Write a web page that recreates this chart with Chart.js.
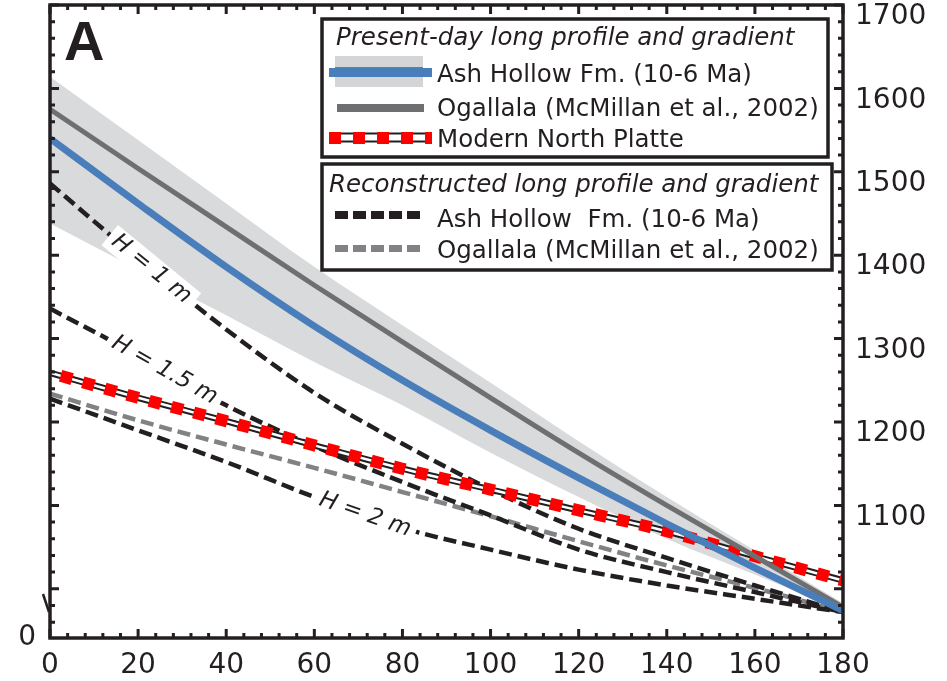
<!DOCTYPE html>
<html lang="en">
<head>
<meta charset="UTF-8">
<title>Long profile and gradient</title>
<script src="https://cdn.jsdelivr.net/npm/chart.js@4.4.0/dist/chart.umd.min.js"></script>
<style>
  body { margin: 0; background: #fff; }
  #wrap { width: 947px; height: 681px; }
</style>
</head>
<body>
<div id="wrap"><canvas id="profileChart" width="947" height="681"></canvas></div>
<script>
// distance downstream (km) and elevations (m)
const distance = [0, 20, 40, 60, 80, 100, 120, 140, 160, 180];
const ashHollowNow = [1540, 1462, 1386, 1315, 1250, 1190, 1133, 1078, 1025, 974];
const ogallalaNow = [1575, 1504, 1434, 1364, 1296, 1229, 1163, 1100, 1039, 978];
const bandTop = [1614, 1538, 1462, 1386, 1316, 1247, 1177, 1110, 1046, 983];
const bandBottom = [1438, 1383, 1328, 1272, 1220, 1163, 1110, 1060, 1017, 974];
const northPlatte = [1259, 1229, 1201, 1172, 1144, 1119, 1094, 1069, 1039, 1010];
const reconH1 = [1486, 1396, 1311, 1235, 1174, 1119, 1072, 1037, 1004, 972];
const reconH15 = [1336, 1280, 1220, 1171, 1128, 1088, 1047, 1020, 996, 972];
const reconH2 = [1228, 1190, 1152, 1110, 1073, 1047, 1023, 1004, 988, 972];
const ogallalaRecon = [1234, 1202, 1173, 1145, 1116, 1087, 1057, 1028, 1001, 972];

const xTicks = [0, 20, 40, 60, 80, 100, 120, 140, 160, 180];
const yTicks = [1100, 1200, 1300, 1400, 1500, 1600, 1700];
const yMin = 941, yMax = 1700;
const breakLabel = '0';

const hLabels = ['H = 1 m', 'H = 1.5 m', 'H = 2 m'];
const hSeries = [reconH1, reconH15, reconH2];
const hLabelX = [23, 26, 71.5];

const presentTitle = 'Present-day long profile and gradient';
const presentItems = ['Ash Hollow Fm. (10-6 Ma)', 'Ogallala (McMillan et al., 2002)', 'Modern North Platte'];
const reconTitle = 'Reconstructed long profile and gradient';
const reconItems = ['Ash Hollow  Fm. (10-6 Ma)', 'Ogallala (McMillan et al., 2002)'];

const ink = '#231f20';
const blue = '#4a7ebb';
const grayLine = '#6e6f71';
const grayDash = '#808285';
const bandColor = '#d9dadb';

function pts(arr) {
  return distance.map((d, i) => ({ x: d, y: arr[i] }));
}

function interp(arr, xv) {
  for (let i = 0; i < distance.length - 1; i++) {
    if (xv >= distance[i] && xv <= distance[i + 1]) {
      const t = (xv - distance[i]) / (distance[i + 1] - distance[i]);
      return arr[i] + t * (arr[i + 1] - arr[i]);
    }
  }
  return arr[arr.length - 1];
}

const font = 'DejaVu Sans';

// labels on the reconstructed curves, tick marks, frame and the two legend boxes
const decor = {
  id: 'decor',
  afterDatasetsDraw(chart) {
    const ctx = chart.ctx, x = chart.scales.x, y = chart.scales.y;
    ctx.save();
    ctx.font = 'italic 23px "' + font + '"';
    ctx.textAlign = 'center';
    ctx.textBaseline = 'middle';
    hLabels.forEach((txt, i) => {
      const xv = hLabelX[i];
      const px = x.getPixelForValue(xv), py = y.getPixelForValue(interp(hSeries[i], xv));
      const p1 = [x.getPixelForValue(xv - 8), y.getPixelForValue(interp(hSeries[i], xv - 8))];
      const p2 = [x.getPixelForValue(xv + 8), y.getPixelForValue(interp(hSeries[i], xv + 8))];
      const ang = Math.atan2(p2[1] - p1[1], p2[0] - p1[0]);
      const w = ctx.measureText(txt).width;
      ctx.save();
      ctx.translate(px, py);
      ctx.rotate(ang);
      ctx.fillStyle = '#fff';
      ctx.fillRect(-w / 2 - 6, -13, w + 12, 26);
      ctx.fillStyle = ink;
      ctx.fillText(txt, 0, 0);
      ctx.restore();
    });
    ctx.restore();
  },
  afterDraw(chart) {
    const ctx = chart.ctx, a = chart.chartArea, x = chart.scales.x, y = chart.scales.y;
    ctx.save();
    ctx.strokeStyle = ink;
    ctx.lineWidth = 3;
    ctx.beginPath();
    for (let v = 0; v <= 180; v += 4) {
      const px = x.getPixelForValue(v);
      const len = v % 20 === 0 ? 9 : 5;
      ctx.moveTo(px, a.bottom); ctx.lineTo(px, a.bottom - len);
      ctx.moveTo(px, a.top); ctx.lineTo(px, a.top + len);
    }
    for (let v = 960; v <= 1700; v += 20) {
      const py = y.getPixelForValue(v);
      const len = v % 100 === 0 ? 9 : 5;
      ctx.moveTo(a.left, py); ctx.lineTo(a.left + len, py);
      ctx.moveTo(a.right, py); ctx.lineTo(a.right - len, py);
    }
    ctx.stroke();
    ctx.lineWidth = 3.5;
    ctx.strokeRect(a.left, a.top, a.right - a.left, a.bottom - a.top);
    // axis break on the left
    ctx.lineWidth = 2.5;
    ctx.beginPath();
    ctx.moveTo(a.left - 7, a.bottom - 44);
    ctx.lineTo(a.left - 1, a.bottom - 26);
    ctx.stroke();

    // panel letter
    ctx.fillStyle = ink;
    ctx.font = 'bold 56px "Liberation Sans"';
    ctx.textAlign = 'left';
    ctx.textBaseline = 'alphabetic';
    ctx.fillText('A', 64, 60);

    // legend boxes
    ctx.fillStyle = '#fff';
    ctx.fillRect(322, 19, 506, 138);
    ctx.fillRect(322, 164, 510, 106);
    ctx.lineWidth = 3.5;
    ctx.strokeRect(322, 19, 506, 138);
    ctx.strokeRect(322, 164, 510, 106);

    ctx.fillStyle = ink;
    ctx.font = 'italic 24.5px "' + font + '"';
    ctx.fillText(presentTitle, 336, 45);
    ctx.fillText(reconTitle, 329, 192);
    ctx.font = '24.5px "' + font + '"';
    const rowsA = [82, 116, 147];
    presentItems.forEach((t, i) => ctx.fillText(t, 437, rowsA[i]));
    const rowsB = [227, 258];
    reconItems.forEach((t, i) => ctx.fillText(t, 437, rowsB[i]));

    // swatches
    ctx.lineCap = 'butt';
    ctx.fillStyle = '#d4d5d7';
    ctx.fillRect(335, 56, 88, 31);
    ctx.strokeStyle = ink; ctx.lineWidth = 1;
    ctx.beginPath(); ctx.moveTo(335, 68); ctx.lineTo(423, 68); ctx.stroke();
    ctx.strokeStyle = blue; ctx.lineWidth = 9;
    ctx.beginPath(); ctx.moveTo(329, 72.5); ctx.lineTo(432, 72.5); ctx.stroke();
    ctx.strokeStyle = grayLine; ctx.lineWidth = 8;
    ctx.beginPath(); ctx.moveTo(337, 108); ctx.lineTo(424, 108); ctx.stroke();
    ctx.strokeStyle = ink; ctx.lineWidth = 10;
    ctx.beginPath(); ctx.moveTo(329, 137.5); ctx.lineTo(432, 137.5); ctx.stroke();
    ctx.strokeStyle = '#fff'; ctx.lineWidth = 6;
    ctx.beginPath(); ctx.moveTo(329, 137.5); ctx.lineTo(432, 137.5); ctx.stroke();
    ctx.strokeStyle = '#ff0000'; ctx.lineWidth = 12;
    ctx.setLineDash([12, 12]);
    ctx.beginPath(); ctx.moveTo(329, 138); ctx.lineTo(432, 138); ctx.stroke();
    ctx.setLineDash([13, 5]);
    ctx.strokeStyle = ink; ctx.lineWidth = 8;
    ctx.beginPath(); ctx.moveTo(335, 215); ctx.lineTo(423, 215); ctx.stroke();
    ctx.strokeStyle = grayDash; ctx.lineWidth = 7;
    ctx.beginPath(); ctx.moveTo(335, 248.5); ctx.lineTo(420, 248.5); ctx.stroke();
    ctx.restore();
  }
};

const dashed = (arr, color, order) => ({
  data: pts(arr), borderColor: color, borderWidth: 4.5, borderDash: [13, 6],
  borderCapStyle: 'butt', fill: false, order: order
});

new Chart(document.getElementById('profileChart'), {
  type: 'line',
  data: {
    datasets: [
      { data: pts(bandTop), borderColor: 'rgba(0,0,0,0)', borderWidth: 0, fill: false, order: 30 },
      { data: pts(bandBottom), borderColor: 'rgba(0,0,0,0)', borderWidth: 0, fill: '-1', backgroundColor: bandColor, order: 29 },
      dashed(ogallalaRecon, grayDash, 20),
      dashed(reconH2, ink, 19),
      dashed(reconH15, ink, 18),
      dashed(reconH1, ink, 17),
      { data: pts(northPlatte), borderColor: ink, borderWidth: 6.5, fill: false, order: 10 },
      { data: pts(northPlatte), borderColor: '#fff', borderWidth: 2.5, fill: false, order: 9 },
      { data: pts(northPlatte), borderColor: '#ff0000', borderWidth: 12, borderDash: [12, 11], borderDashOffset: 12, borderCapStyle: 'butt', fill: false, order: 8 },
      { data: pts(ogallalaNow), borderColor: grayLine, borderWidth: 5, fill: false, order: 2 },
      { data: pts(ashHollowNow), borderColor: blue, borderWidth: 7, fill: false, order: 1 }
    ]
  },
  options: {
    responsive: false,
    animation: false,
    devicePixelRatio: 1,
    layout: { padding: { top: 5, left: 0, right: 0, bottom: 0 } },
    elements: { point: { radius: 0 }, line: { cubicInterpolationMode: 'monotone' } },
    plugins: { legend: { display: false }, tooltip: { enabled: false } },
    scales: {
      x: {
        type: 'linear', min: 0, max: 180,
        afterBuildTicks: s => { s.ticks = xTicks.map(v => ({ value: v })); },
        ticks: { font: { family: font, size: 28 }, color: ink, padding: 11, maxRotation: 0, autoSkip: false, callback: v => String(v) },
        grid: { display: false, drawTicks: false },
        border: { display: false },
        afterFit: s => { s.height = 43; s.paddingLeft = 0; s.paddingRight = 0; }
      },
      y: {
        position: 'right', min: yMin, max: yMax,
        afterBuildTicks: s => { s.ticks = yTicks.map(v => ({ value: v })); },
        ticks: { font: { family: font, size: 28 }, color: ink, padding: 12, labelOffset: 12, autoSkip: false, callback: v => String(v) },
        grid: { display: false, drawTicks: false },
        border: { display: false },
        afterFit: s => { s.width = 104; s.paddingTop = 0; s.paddingBottom = 0; }
      },
      yLeft: {
        position: 'left', min: yMin, max: yMax,
        afterBuildTicks: s => { s.ticks = [{ value: yMin }]; },
        ticks: { font: { family: font, size: 28 }, color: ink, padding: 14, callback: () => breakLabel },
        grid: { display: false, drawTicks: false },
        border: { display: false },
        afterFit: s => { s.width = 50; s.paddingTop = 0; s.paddingBottom = 0; }
      }
    }
  },
  plugins: [decor]
});
</script>
</body>
</html>
